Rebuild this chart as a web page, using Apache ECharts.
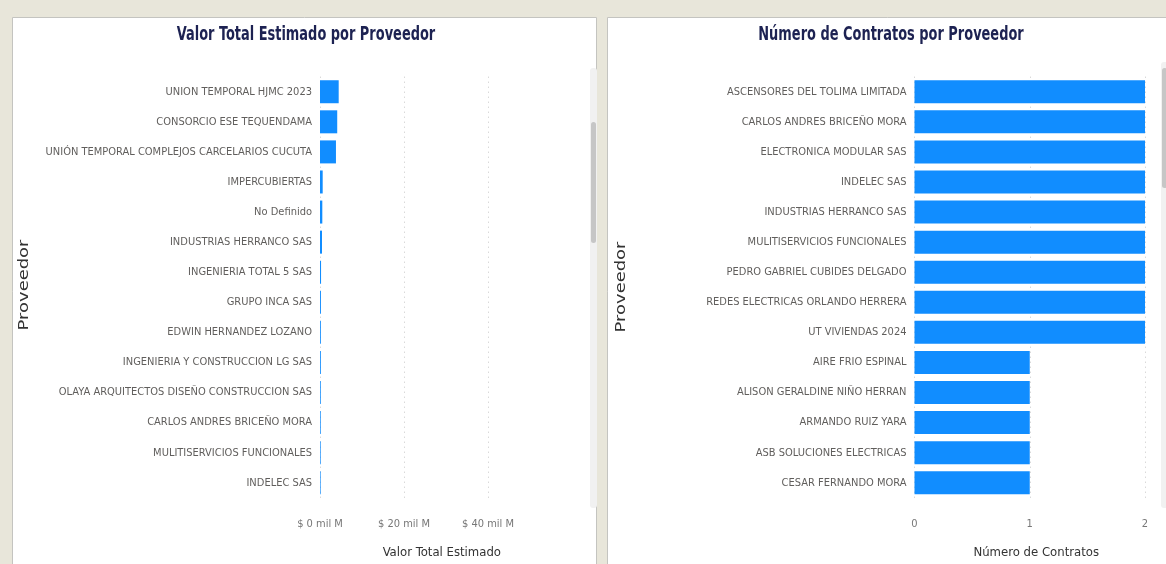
<!DOCTYPE html>
<html>
<head>
<meta charset="utf-8">
<script src="https://cdn.jsdelivr.net/npm/echarts@6/dist/echarts.min.js"></script>
<style>
html,body{margin:0;padding:0;background:#e8e6da;}
#c{width:1166px;height:564px;}
</style>
</head>
<body>
<div id="c"></div>
<script>
// ---- data ----
const leftCategories = [
  'UNION TEMPORAL HJMC 2023',
  'CONSORCIO ESE TEQUENDAMA',
  'UNIÓN TEMPORAL COMPLEJOS CARCELARIOS CUCUTA',
  'IMPERCUBIERTAS',
  'No Definido',
  'INDUSTRIAS HERRANCO SAS',
  'INGENIERIA TOTAL 5 SAS',
  'GRUPO INCA SAS',
  'EDWIN HERNANDEZ LOZANO',
  'INGENIERIA Y CONSTRUCCION LG SAS',
  'OLAYA ARQUITECTOS DISEÑO CONSTRUCCION SAS',
  'CARLOS ANDRES BRICEÑO MORA',
  'MULITISERVICIOS FUNCIONALES',
  'INDELEC SAS'
];
// Valor total estimado, in "mil M"
const leftValues = [4.45, 4.1, 3.8, 0.64, 0.55, 0.48, 0.25, 0.22, 0.2, 0.2, 0.18, 0.17, 0.16, 0.15];

const rightCategories = [
  'ASCENSORES DEL TOLIMA LIMITADA',
  'CARLOS ANDRES BRICEÑO MORA',
  'ELECTRONICA MODULAR SAS',
  'INDELEC SAS',
  'INDUSTRIAS HERRANCO SAS',
  'MULITISERVICIOS FUNCIONALES',
  'PEDRO GABRIEL CUBIDES DELGADO',
  'REDES ELECTRICAS ORLANDO HERRERA',
  'UT VIVIENDAS 2024',
  'AIRE FRIO ESPINAL',
  'ALISON GERALDINE NIÑO HERRAN',
  'ARMANDO RUIZ YARA',
  'ASB SOLUCIONES ELECTRICAS',
  'CESAR FERNANDO MORA'
];
const rightValues = [2, 2, 2, 2, 2, 2, 2, 2, 2, 1, 1, 1, 1, 1];

const leftTitle = 'Valor Total Estimado por Proveedor';
const rightTitle = 'Número de Contratos por Proveedor';
const leftXName = 'Valor Total Estimado';
const rightXName = 'Número de Contratos';
const yName = 'Proveedor';

// ---- styles ----
const NARROW = '"Liberation Sans Narrow", "DejaVu Sans Condensed", sans-serif';
const BLUE = '#118DFF';

const chart = echarts.init(document.getElementById('c'), null, {renderer: 'canvas'});

function valueAxisCommon() {
  return {
    type: 'value',
    axisLine: {show: false},
    axisTick: {show: false},
    splitLine: {show: true, lineStyle: {type: [1, 4], color: '#c8c8c8', width: 1}},
    axisLabel: {color: '#777', fontFamily: NARROW, fontSize: 11, margin: 21},
    nameLocation: 'middle',
    nameGap: 48,
    nameTextStyle: {color: '#333', fontFamily: NARROW, fontSize: 13}
  };
}
function catAxisCommon(data) {
  return {
    type: 'category',
    data: data,
    inverse: true,
    axisLine: {show: false},
    axisTick: {show: false},
    splitLine: {show: false},
    axisLabel: {color: '#605e5c', fontFamily: NARROW, fontSize: 11, margin: 8}
  };
}
function titleText(txt, cx) {
  return {type: 'text', x: cx, y: 35, scaleX: 0.72, z: 10,
    style: {text: txt, align: 'center', verticalAlign: 'middle', fill: '#1d2252',
      font: 'bold 20px ' + NARROW}};
}
function yNameText(cx, cy) {
  return {type: 'text', x: cx, y: cy, rotation: Math.PI / 2, scaleX: 1.28, z: 10,
    style: {text: yName, align: 'center', verticalAlign: 'middle', fill: '#333',
      font: '14px "DejaVu Sans", sans-serif'}};
}

const option = {
  animation: false,
  backgroundColor: '#e8e6da',
  graphic: [
    {type: 'rect', shape: {x: 12.5, y: 17.5, width: 584, height: 560}, style: {fill: '#fff', stroke: '#c4c4c0', lineWidth: 1}, z: -10},
    {type: 'rect', shape: {x: 607.5, y: 17.5, width: 570, height: 560}, style: {fill: '#fff', stroke: '#c4c4c0', lineWidth: 1}, z: -10},
    // scrollbars
    {type: 'rect', shape: {x: 590, y: 68, width: 7, height: 440, r: 3}, style: {fill: '#f1f1f1'}, z: -5},
    {type: 'rect', shape: {x: 591, y: 122, width: 5, height: 121, r: 2.5}, style: {fill: '#c6c6c6'}, z: -4},
    {type: 'rect', shape: {x: 1161, y: 62, width: 7, height: 446, r: 3}, style: {fill: '#f1f1f1'}, z: -5},
    {type: 'rect', shape: {x: 1162, y: 68, width: 5, height: 120, r: 2.5}, style: {fill: '#c6c6c6'}, z: -4},
    titleText(leftTitle, 306),
    titleText(rightTitle, 891),
    yNameText(24, 285),
    yNameText(621, 287)
  ],
  grid: [
    {left: 320, width: 243.6, top: 76.7, height: 421.1},
    {left: 914.5, width: 230.5, top: 76.7, height: 421.1}
  ],
  xAxis: [
    Object.assign(valueAxisCommon(), {
      gridIndex: 0, min: 0, max: 58, interval: 20,
      name: leftXName,
      splitLine: {show: true, showMaxLine: false, lineStyle: {type: [1, 4], color: '#c8c8c8', width: 1}},
      axisLabel: {color: '#777', fontFamily: NARROW, fontSize: 11, margin: 21, showMaxLabel: false,
        formatter: function (v) { return '$ ' + v + ' mil M'; }}
    }),
    Object.assign(valueAxisCommon(), {
      gridIndex: 1, min: 0, max: 2, interval: 1,
      name: rightXName,
      nameTextStyle: {color: '#333', fontFamily: NARROW, fontSize: 13, padding: [0, 0, 0, 13]}
    })
  ],
  yAxis: [
    Object.assign(catAxisCommon(leftCategories), {gridIndex: 0}),
    Object.assign(catAxisCommon(rightCategories), {gridIndex: 1})
  ],
  series: [
    {type: 'bar', xAxisIndex: 0, yAxisIndex: 0, data: leftValues, barWidth: 23,
     itemStyle: {color: BLUE}},
    {type: 'bar', xAxisIndex: 1, yAxisIndex: 1, data: rightValues, barWidth: 23,
     itemStyle: {color: BLUE}}
  ]
};
chart.setOption(option);
</script>
</body>
</html>
